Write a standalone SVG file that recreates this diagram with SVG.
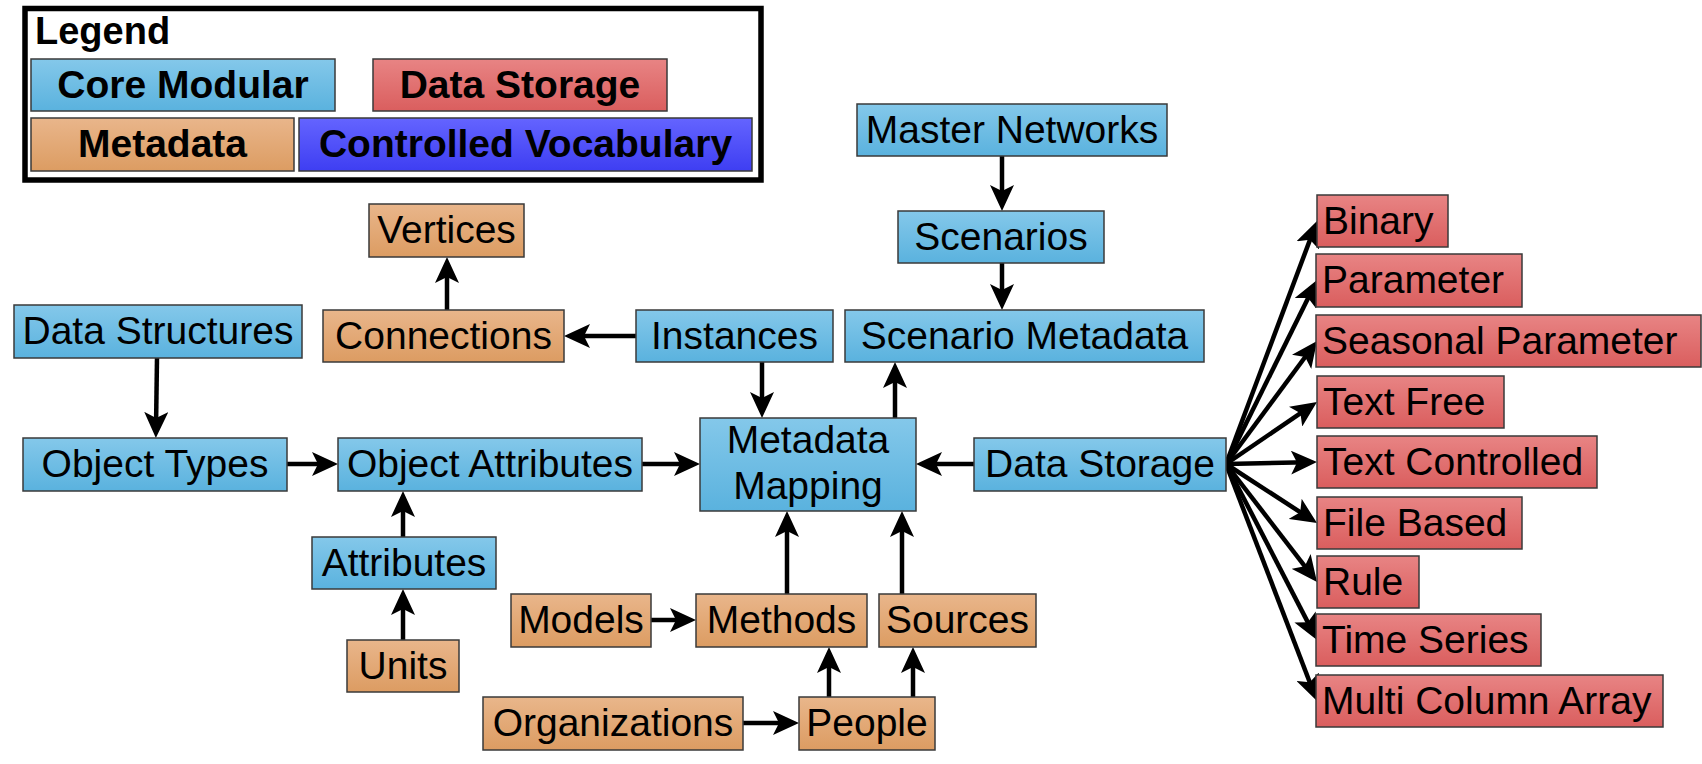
<svg xmlns="http://www.w3.org/2000/svg" width="1702" height="764" viewBox="0 0 1702 764">
<defs>
<linearGradient id="gBlue" x1="0" y1="0" x2="0" y2="1"><stop offset="0" stop-color="#84C8EA"/><stop offset="1" stop-color="#5AB2DE"/></linearGradient>
<linearGradient id="gRed" x1="0" y1="0" x2="0" y2="1"><stop offset="0" stop-color="#E88484"/><stop offset="1" stop-color="#DA5E5E"/></linearGradient>
<linearGradient id="gOrange" x1="0" y1="0" x2="0" y2="1"><stop offset="0" stop-color="#E9B68B"/><stop offset="1" stop-color="#DC9C62"/></linearGradient>
<linearGradient id="gPurple" x1="0" y1="0" x2="0" y2="1"><stop offset="0" stop-color="#6464FF"/><stop offset="1" stop-color="#3E3EF2"/></linearGradient>
<marker id="ah" markerUnits="userSpaceOnUse" markerWidth="26" markerHeight="24" viewBox="0 0 26 24" refX="16" refY="12" orient="auto">
<path d="M0,0 L26,12 L0,24 L6,12 Z" fill="#000"/>
</marker>
</defs>
<style>
.b rect{fill:url(#gBlue);stroke:#3a3a3a;stroke-width:1.5}
.r rect{fill:url(#gRed);stroke:#3a3a3a;stroke-width:1.5}
.o rect{fill:url(#gOrange);stroke:#3a3a3a;stroke-width:1.5}
.p rect{fill:url(#gPurple);stroke:#3a3a3a;stroke-width:1.5}
text{font-family:"Liberation Sans",Arial,sans-serif;font-size:39px;fill:#000}
.c text{text-anchor:middle}
.lg text{font-weight:bold;text-anchor:middle}
#connectors line{stroke:#000;stroke-width:4.5;marker-end:url(#ah)}
</style>
<rect width="1702" height="764" fill="#fff"/>

<g id="legend">
<rect x="25" y="8.5" width="736" height="171.5" fill="#fff" stroke="#000" stroke-width="5.5"/>
<text x="35" y="44" style="font-weight:bold;font-size:38px">Legend</text>
<g class="b lg"><rect x="31" y="59" width="304" height="52"/><text x="183" y="97.5">Core Modular</text></g>
<g class="r lg"><rect x="373" y="59" width="294" height="52"/><text x="520" y="97.5">Data Storage</text></g>
<g class="o lg"><rect x="31" y="118" width="263" height="53"/><text x="162.5" y="157">Metadata</text></g>
<g class="p lg"><rect x="299" y="118" width="453" height="53"/><text x="525.5" y="157">Controlled Vocabulary</text></g>
</g>

<g id="connectors">
<line x1="157" y1="358" x2="156" y2="428"/>
<line x1="287" y1="464" x2="328" y2="464"/>
<line x1="403" y1="537" x2="403" y2="501"/>
<line x1="403" y1="640" x2="403" y2="599"/>
<line x1="447" y1="310" x2="447" y2="267"/>
<line x1="636" y1="336" x2="574" y2="336"/>
<line x1="762" y1="362" x2="762" y2="408"/>
<line x1="642" y1="464" x2="690" y2="464"/>
<line x1="895" y1="418" x2="895" y2="372"/>
<line x1="1002" y1="156" x2="1002" y2="201"/>
<line x1="1002" y1="263" x2="1002" y2="300"/>
<line x1="974" y1="464" x2="926" y2="464"/>
<line x1="787" y1="594" x2="787" y2="521"/>
<line x1="902" y1="594" x2="902" y2="521"/>
<line x1="651" y1="620" x2="686" y2="620"/>
<line x1="743" y1="723" x2="789" y2="723"/>
<line x1="829" y1="697" x2="829" y2="657"/>
<line x1="913" y1="697" x2="913" y2="657"/>
<line x1="1226" y1="464" x2="1313.5" y2="230.4"/>
<line x1="1226" y1="464" x2="1312.6" y2="289"/>
<line x1="1226" y1="464" x2="1311.1" y2="349"/>
<line x1="1226" y1="464" x2="1308.7" y2="407.6"/>
<line x1="1226" y1="464" x2="1307" y2="462.2"/>
<line x1="1226" y1="464" x2="1308.6" y2="517.6"/>
<line x1="1226" y1="464" x2="1310.9" y2="574.1"/>
<line x1="1226" y1="464" x2="1312.4" y2="631.1"/>
<line x1="1226" y1="464" x2="1313.4" y2="691.7"/>
</g>

<g id="data-structures" class="b c"><rect x="14" y="305" width="288" height="53"/><text x="158" y="344">Data Structures</text></g>
<g id="object-types" class="b c"><rect x="23" y="438" width="264" height="53"/><text x="155" y="477">Object Types</text></g>
<g id="object-attributes" class="b c"><rect x="338" y="438" width="304" height="53"/><text x="490" y="477">Object Attributes</text></g>
<g id="attributes" class="b c"><rect x="312" y="537" width="184" height="52"/><text x="404" y="575.5">Attributes</text></g>
<g id="units" class="o c"><rect x="347" y="640" width="112" height="52"/><text x="403" y="678.5">Units</text></g>
<g id="vertices" class="o c"><rect x="369" y="204" width="155" height="53"/><text x="446.5" y="243">Vertices</text></g>
<g id="connections" class="o c"><rect x="323" y="310" width="241" height="52"/><text x="443.5" y="348.5">Connections</text></g>
<g id="instances" class="b c"><rect x="636" y="310" width="197" height="52"/><text x="734.5" y="348.5">Instances</text></g>
<g id="master-networks" class="b c"><rect x="857" y="104" width="310" height="52"/><text x="1012" y="142.5">Master Networks</text></g>
<g id="scenarios" class="b c"><rect x="898" y="211" width="206" height="52"/><text x="1001" y="249.5">Scenarios</text></g>
<g id="scenario-metadata" class="b c"><rect x="845" y="310" width="359" height="52"/><text x="1024.5" y="348.5">Scenario Metadata</text></g>
<g id="metadata-mapping" class="b c"><rect x="700" y="418" width="216" height="93"/><text x="808" y="453">Metadata</text><text x="808" y="499">Mapping</text></g>
<g id="data-storage" class="b c"><rect x="974" y="438" width="252" height="53"/><text x="1100" y="477">Data Storage</text></g>
<g id="models" class="o c"><rect x="511" y="594" width="140" height="53"/><text x="581" y="633">Models</text></g>
<g id="methods" class="o c"><rect x="696" y="594" width="171" height="53"/><text x="781.5" y="633">Methods</text></g>
<g id="sources" class="o c"><rect x="879" y="594" width="157" height="53"/><text x="957.5" y="633">Sources</text></g>
<g id="organizations" class="o c"><rect x="483" y="697" width="260" height="53"/><text x="613" y="736">Organizations</text></g>
<g id="people" class="o c"><rect x="799" y="697" width="136" height="53"/><text x="867" y="736">People</text></g>

<g id="binary" class="r"><rect x="1317" y="195" width="131" height="52"/><text x="1323" y="233.5">Binary</text></g>
<g id="parameter" class="r"><rect x="1316" y="254" width="206" height="53"/><text x="1322" y="293">Parameter</text></g>
<g id="seasonal-parameter" class="r"><rect x="1316" y="315" width="385" height="52"/><text x="1322" y="353.5">Seasonal Parameter</text></g>
<g id="text-free" class="r"><rect x="1317" y="376" width="187" height="52"/><text x="1323" y="414.5">Text Free</text></g>
<g id="text-controlled" class="r"><rect x="1317" y="436" width="280" height="52"/><text x="1323" y="474.5">Text Controlled</text></g>
<g id="file-based" class="r"><rect x="1317" y="497" width="205" height="52"/><text x="1323" y="535.5">File Based</text></g>
<g id="rule" class="r"><rect x="1317" y="556" width="102" height="52"/><text x="1323" y="594.5">Rule</text></g>
<g id="time-series" class="r"><rect x="1316" y="614" width="225" height="52"/><text x="1322" y="652.5">Time Series</text></g>
<g id="multi-column-array" class="r"><rect x="1316" y="675" width="347" height="52"/><text x="1322" y="713.5">Multi Column Array</text></g>
</svg>
